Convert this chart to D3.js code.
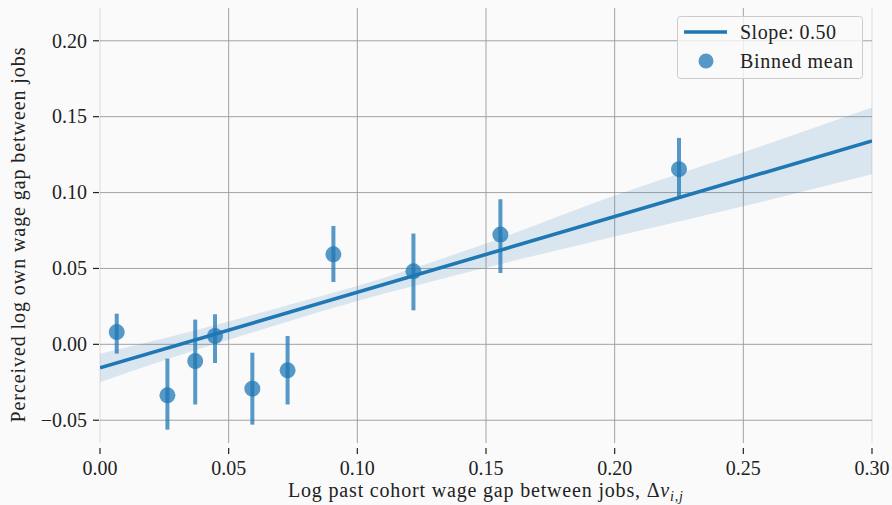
<!DOCTYPE html>
<html>
<head>
<meta charset="utf-8">
<script src="https://cdn.jsdelivr.net/npm/d3@7"></script>
<style>
  html, body { margin: 0; padding: 0; background: #fafafa; }
  svg { display: block; }
  text { font-family: "Liberation Serif", "DejaVu Serif", serif; fill: #222; }
</style>
</head>
<body>
<svg id="chart" width="892" height="505"></svg>
<script>
// Binned means (x, mean, CI low, CI high)
const binX    = [0.0065, 0.0262, 0.0370, 0.0447, 0.0592, 0.0729, 0.0907, 0.1218, 0.1556, 0.2250];
const binMean = [0.0081, -0.0336, -0.0110, 0.0055, -0.0292, -0.0171, 0.0593, 0.0481, 0.0723, 0.1154];
const binLow  = [-0.0061, -0.0562, -0.0396, -0.0123, -0.0529, -0.0396, 0.0411, 0.0224, 0.0470, 0.0970];
const binHigh = [0.0202, -0.0094, 0.0163, 0.0198, -0.0055, 0.0055, 0.0780, 0.0730, 0.0956, 0.1360];

// Fitted line end points and confidence band
const fitX   = [0.0, 0.30];
const fitY   = [-0.0155, 0.1340];
const bandX  = [0.0, 0.025, 0.05, 0.075, 0.10, 0.15, 0.20, 0.25, 0.30];
const bandLo = [-0.0250, -0.0105, 0.0030, 0.0160, 0.0285, 0.0505, 0.0710, 0.0910, 0.1120];
const bandHi = [-0.0062, 0.0040, 0.0150, 0.0268, 0.0385, 0.0665, 0.0980, 0.1265, 0.1560];

const xTicks = [0, 0.05, 0.10, 0.15, 0.20, 0.25, 0.30];
const yTicks = [-0.05, 0, 0.05, 0.10, 0.15, 0.20];

(function () {
  const blue = '#1f77b4';
  const svg = d3.select('#chart');
  const L = 100, R = 872, T = 8, B = 443;

  const x = d3.scaleLinear().domain([0, 0.30]).range([L, R]);
  const y = d3.scaleLinear().domain([-0.065, 0.2216]).range([B, T]);

  svg.append('rect').attr('width', 892).attr('height', 505).attr('fill', '#fafafa');

  // grid
  const grid = svg.append('g').attr('stroke', '#9a9a9a').attr('stroke-width', 1);
  grid.selectAll('.gx').data(xTicks).join('line')
    .attr('x1', d => x(d)).attr('x2', d => x(d))
    .attr('y1', T).attr('y2', B)
    .attr('stroke-opacity', (d, i) => (i === 0 || i === xTicks.length - 1) ? 0.3 : 0.9);
  grid.selectAll('.gy').data(yTicks).join('line')
    .attr('x1', L).attr('x2', R)
    .attr('y1', d => y(d)).attr('y2', d => y(d))
    .attr('stroke-opacity', 0.9);

  // ticks + labels
  const axX = svg.append('g');
  axX.selectAll('line').data(xTicks).join('line')
    .attr('x1', d => x(d)).attr('x2', d => x(d)).attr('y1', 448).attr('y2', 454)
    .attr('stroke', '#222').attr('stroke-width', 1.2);
  axX.selectAll('text').data(xTicks).join('text')
    .attr('x', d => x(d)).attr('y', 475).attr('text-anchor', 'middle')
    .attr('font-size', 20).text(d => d3.format('.2f')(d));

  const axY = svg.append('g');
  axY.selectAll('line').data(yTicks).join('line')
    .attr('x1', 93).attr('x2', 99).attr('y1', d => y(d)).attr('y2', d => y(d))
    .attr('stroke', '#222').attr('stroke-width', 1.2);
  axY.selectAll('text').data(yTicks).join('text')
    .attr('x', 87).attr('y', d => y(d)).attr('dy', '0.34em').attr('text-anchor', 'end')
    .attr('font-size', 20).text(d => d3.format('.2f')(d).replace('-', '\u2212'));

  // axis titles
  const xl = svg.append('text').attr('x', 485.5).attr('y', 497)
    .attr('text-anchor', 'middle').attr('font-size', 20)
    .attr('textLength', 395).attr('lengthAdjust', 'spacing');
  xl.append('tspan').text('Log past cohort wage gap between jobs, \u0394');
  xl.append('tspan').attr('font-style', 'italic').text('v');
  xl.append('tspan').attr('font-style', 'italic').attr('font-size', 14).attr('dy', 4).text('i,j');

  svg.append('text')
    .attr('transform', 'translate(25,235) rotate(-90)')
    .attr('text-anchor', 'middle').attr('font-size', 20)
    .attr('textLength', 375).attr('lengthAdjust', 'spacing')
    .text('Perceived log own wage gap between jobs');

  // plot contents, clipped
  svg.append('clipPath').attr('id', 'clip').append('rect')
    .attr('x', L).attr('y', T).attr('width', R - L).attr('height', B - T);
  const plot = svg.append('g').attr('clip-path', 'url(#clip)');

  const area = d3.area()
    .x((d, i) => x(bandX[i])).y0((d, i) => y(bandLo[i])).y1((d, i) => y(bandHi[i]))
    .curve(d3.curveMonotoneX);
  plot.append('path').datum(bandX).attr('d', area).attr('fill', blue).attr('fill-opacity', 0.15);

  plot.append('line')
    .attr('x1', x(fitX[0])).attr('y1', y(fitY[0])).attr('x2', x(fitX[1])).attr('y2', y(fitY[1]))
    .attr('stroke', blue).attr('stroke-width', 3.6);

  const bins = binX.map((v, i) => ({ x: v, m: binMean[i], lo: binLow[i], hi: binHigh[i] }));
  plot.selectAll('.err').data(bins).join('line')
    .attr('x1', d => x(d.x)).attr('x2', d => x(d.x))
    .attr('y1', d => y(d.lo)).attr('y2', d => y(d.hi))
    .attr('stroke', blue).attr('stroke-opacity', 0.75).attr('stroke-width', 4);
  plot.selectAll('.pt').data(bins).join('circle')
    .attr('cx', d => x(d.x)).attr('cy', d => y(d.m)).attr('r', 8)
    .attr('fill', blue).attr('fill-opacity', 0.75);

  // legend
  const lg = svg.append('g');
  lg.append('rect').attr('x', 677.5).attr('y', 16.5).attr('width', 185).attr('height', 62).attr('rx', 3)
    .attr('fill', '#fafafa').attr('fill-opacity', 0.8).attr('stroke', '#cccccc');
  lg.append('line').attr('x1', 684).attr('x2', 727).attr('y1', 32).attr('y2', 32)
    .attr('stroke', blue).attr('stroke-width', 3.6);
  lg.append('text').attr('x', 740).attr('y', 32).attr('dy', '0.34em').attr('font-size', 20)
    .attr('textLength', 96).attr('lengthAdjust', 'spacing').text('Slope: 0.50');
  lg.append('circle').attr('cx', 706).attr('cy', 61).attr('r', 7.5).attr('fill', blue).attr('fill-opacity', 0.75);
  lg.append('text').attr('x', 740).attr('y', 61).attr('dy', '0.34em').attr('font-size', 20)
    .attr('textLength', 113).attr('lengthAdjust', 'spacing').text('Binned mean');
})();
</script>
</body>
</html>
